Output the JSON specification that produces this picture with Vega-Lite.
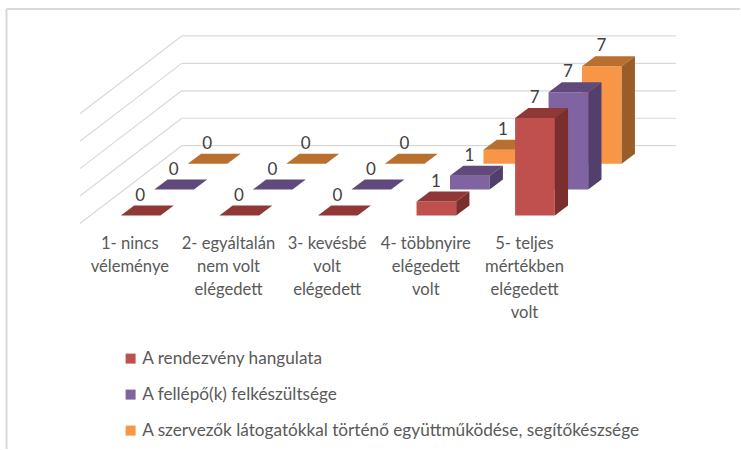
{"$schema":"https://vega.github.io/schema/vega-lite/v6.json","width":741,"height":450,"padding":0,"autosize":{"type":"fit","contains":"padding"},"background":"white","config":{"view":{"stroke":null},"text":{"font":"Lato"}},
"datasets":{
"bars":[
{"cat":1,"s":0,"series":"A rendezvény hangulata","value":0},{"cat":2,"s":0,"series":"A rendezvény hangulata","value":0},{"cat":3,"s":0,"series":"A rendezvény hangulata","value":0},{"cat":4,"s":0,"series":"A rendezvény hangulata","value":1},{"cat":5,"s":0,"series":"A rendezvény hangulata","value":7},
{"cat":1,"s":1,"series":"A fellépő(k) felkészültsége","value":0},{"cat":2,"s":1,"series":"A fellépő(k) felkészültsége","value":0},{"cat":3,"s":1,"series":"A fellépő(k) felkészültsége","value":0},{"cat":4,"s":1,"series":"A fellépő(k) felkészültsége","value":1},{"cat":5,"s":1,"series":"A fellépő(k) felkészültsége","value":7},
{"cat":1,"s":2,"series":"A szervezők látogatókkal történő együttműködése, segítőkészsége","value":0},{"cat":2,"s":2,"series":"A szervezők látogatókkal történő együttműködése, segítőkészsége","value":0},{"cat":3,"s":2,"series":"A szervezők látogatókkal történő együttműködése, segítőkészsége","value":0},{"cat":4,"s":2,"series":"A szervezők látogatókkal történő együttműködése, segítőkészsége","value":1},{"cat":5,"s":2,"series":"A szervezők látogatókkal történő együttműködése, segítőkészsége","value":7}],
"cats":[{"cat":1,"label":"1- nincs|véleménye"},{"cat":2,"label":"2- egyáltalán|nem volt|elégedett"},{"cat":3,"label":"3- kevésbé|volt|elégedett"},{"cat":4,"label":"4- többnyire|elégedett|volt"},{"cat":5,"label":"5- teljes|mértékben|elégedett|volt"}],
"grid":[{"level":0},{"level":2},{"level":4},{"level":6},{"level":8}],
"frame":[{"x0":6.5,"y0":9,"x1":6.5,"y1":450},{"x0":6.5,"y0":9,"x1":741,"y1":9}]},
"encoding":{"x":{"field":"px","type":"quantitative","axis":null,"scale":{"domain":[0,741],"nice":false,"zero":false}},"y":{"field":"py","type":"quantitative","axis":null,"scale":{"domain":[450,0],"nice":false,"zero":false}}},
"layer":[
{"data":{"name":"frame"},"transform":[{"calculate":"datum.x0","as":"px"},{"calculate":"datum.y0","as":"py"}],"mark":{"type":"rule","color":"#d9d9d9","strokeWidth":2},"encoding":{"x2":{"field":"x1"},"y2":{"field":"y1"}}},
{"data":{"name":"grid"},"transform":[{"calculate":"182","as":"px"},{"calculate":"677","as":"px2"},{"calculate":"146-datum.level*13.75","as":"py"}],"mark":{"type":"rule","color":"#d9d9d9","strokeWidth":1.2},"encoding":{"x2":{"field":"px2"}}},
{"data":{"name":"grid"},"transform":[{"calculate":"80","as":"px"},{"calculate":"182","as":"px2"},{"calculate":"224-datum.level*13.75","as":"py"},{"calculate":"146-datum.level*13.75","as":"py2"}],"mark":{"type":"rule","color":"#d9d9d9","strokeWidth":1.2},"encoding":{"x2":{"field":"px2"},"y2":{"field":"py2"}}},

{"data":{"name":"bars"},"transform":[{"filter":"datum.s==2"},{"calculate":"121+(datum.cat-1)*98.7+datum.s*33.5","as":"bx"},{"calculate":"216-datum.s*26","as":"by"},{"calculate":"datum.by-datum.value*13.95","as":"top"}],
"layer":[
{"transform":[{"calculate":"datum.bx","as":"px"},{"calculate":"datum.bx+39.7","as":"px2"},{"calculate":"datum.top","as":"py"},{"calculate":"datum.by","as":"py2"}],"mark":{"type":"rect"},"encoding":{"x2":{"field":"px2"},"y2":{"field":"py2"},"color":{"field":"series","type":"nominal","scale":{"domain":["A rendezvény hangulata","A fellépő(k) felkészültsége","A szervezők látogatókkal történő együttműködése, segítőkészsége"],"range":["#C0504D","#8064A2","#F79646"]},"legend":{"orient":"none","legendX":122,"legendY":350,"title":null,"symbolType":"square","symbolSize":100,"symbolStrokeWidth":0,"labelFont":"Lato","labelFontSize":17.2,"labelColor":"#595959","labelLimit":600,"rowPadding":18,"labelOffset":3}}}},
{"transform":[{"calculate":"[0,1]","as":"t"},{"flatten":["t"]},{"calculate":"datum.bx+datum.t*13.3","as":"px"},{"calculate":"datum.bx+39.7+datum.t*13.3","as":"px2"},{"calculate":"datum.top-datum.t*10","as":"py"}],"mark":{"type":"area","orient":"horizontal","color":"#B9702F","opacity":1},"encoding":{"x2":{"field":"px2"},"detail":{"field":"cat"}}},
{"transform":[{"calculate":"[0,1]","as":"t"},{"flatten":["t"]},{"calculate":"datum.bx+39.7+datum.t*13.3","as":"px"},{"calculate":"datum.top-datum.t*10","as":"py"},{"calculate":"datum.by-datum.t*10","as":"py2"}],"mark":{"type":"area","orient":"vertical","color":"#9A5C28","opacity":1},"encoding":{"y2":{"field":"py2"},"detail":{"field":"cat"}}}
]},

{"data":{"name":"bars"},"transform":[{"filter":"datum.s==1"},{"calculate":"121+(datum.cat-1)*98.7+datum.s*33.5","as":"bx"},{"calculate":"216-datum.s*26","as":"by"},{"calculate":"datum.by-datum.value*13.95","as":"top"}],
"layer":[
{"transform":[{"calculate":"datum.bx","as":"px"},{"calculate":"datum.bx+39.7","as":"px2"},{"calculate":"datum.top","as":"py"},{"calculate":"datum.by","as":"py2"}],"mark":{"type":"rect"},"encoding":{"x2":{"field":"px2"},"y2":{"field":"py2"},"color":{"field":"series","type":"nominal"}}},
{"transform":[{"calculate":"[0,1]","as":"t"},{"flatten":["t"]},{"calculate":"datum.bx+datum.t*13.3","as":"px"},{"calculate":"datum.bx+39.7+datum.t*13.3","as":"px2"},{"calculate":"datum.top-datum.t*10","as":"py"}],"mark":{"type":"area","orient":"horizontal","color":"#604A7B","opacity":1},"encoding":{"x2":{"field":"px2"},"detail":{"field":"cat"}}},
{"transform":[{"calculate":"[0,1]","as":"t"},{"flatten":["t"]},{"calculate":"datum.bx+39.7+datum.t*13.3","as":"px"},{"calculate":"datum.top-datum.t*10","as":"py"},{"calculate":"datum.by-datum.t*10","as":"py2"}],"mark":{"type":"area","orient":"vertical","color":"#533F6B","opacity":1},"encoding":{"y2":{"field":"py2"},"detail":{"field":"cat"}}}
]},

{"data":{"name":"bars"},"transform":[{"filter":"datum.s==0"},{"calculate":"121+(datum.cat-1)*98.7+datum.s*33.5","as":"bx"},{"calculate":"216-datum.s*26","as":"by"},{"calculate":"datum.by-datum.value*13.95","as":"top"}],
"layer":[
{"transform":[{"calculate":"datum.bx","as":"px"},{"calculate":"datum.bx+39.7","as":"px2"},{"calculate":"datum.top","as":"py"},{"calculate":"datum.by","as":"py2"}],"mark":{"type":"rect"},"encoding":{"x2":{"field":"px2"},"y2":{"field":"py2"},"color":{"field":"series","type":"nominal"}}},
{"transform":[{"calculate":"[0,1]","as":"t"},{"flatten":["t"]},{"calculate":"datum.bx+datum.t*13.3","as":"px"},{"calculate":"datum.bx+39.7+datum.t*13.3","as":"px2"},{"calculate":"datum.top-datum.t*10","as":"py"}],"mark":{"type":"area","orient":"horizontal","color":"#8F3835","opacity":1},"encoding":{"x2":{"field":"px2"},"detail":{"field":"cat"}}},
{"transform":[{"calculate":"[0,1]","as":"t"},{"flatten":["t"]},{"calculate":"datum.bx+39.7+datum.t*13.3","as":"px"},{"calculate":"datum.top-datum.t*10","as":"py"},{"calculate":"datum.by-datum.t*10","as":"py2"}],"mark":{"type":"area","orient":"vertical","color":"#7B2F2D","opacity":1},"encoding":{"y2":{"field":"py2"},"detail":{"field":"cat"}}}
]},

{"data":{"name":"bars"},"transform":[{"calculate":"121+(datum.cat-1)*98.7+datum.s*33.5+19.5","as":"px"},{"calculate":"216-datum.s*26-datum.value*13.95-19.8","as":"py"}],"mark":{"type":"text","font":"Lato","fontSize":17,"color":"#404040","align":"center","baseline":"middle"},"encoding":{"text":{"field":"value","type":"quantitative"}}},
{"data":{"name":"cats"},"transform":[{"calculate":"130+(datum.cat-1)*98.8","as":"px"},{"calculate":"236.5","as":"py"}],"mark":{"type":"text","font":"Lato","fontSize":16.6,"color":"#595959","align":"center","baseline":"top","lineBreak":"|","lineHeight":23},"encoding":{"text":{"field":"label","type":"nominal"}}}
]}
